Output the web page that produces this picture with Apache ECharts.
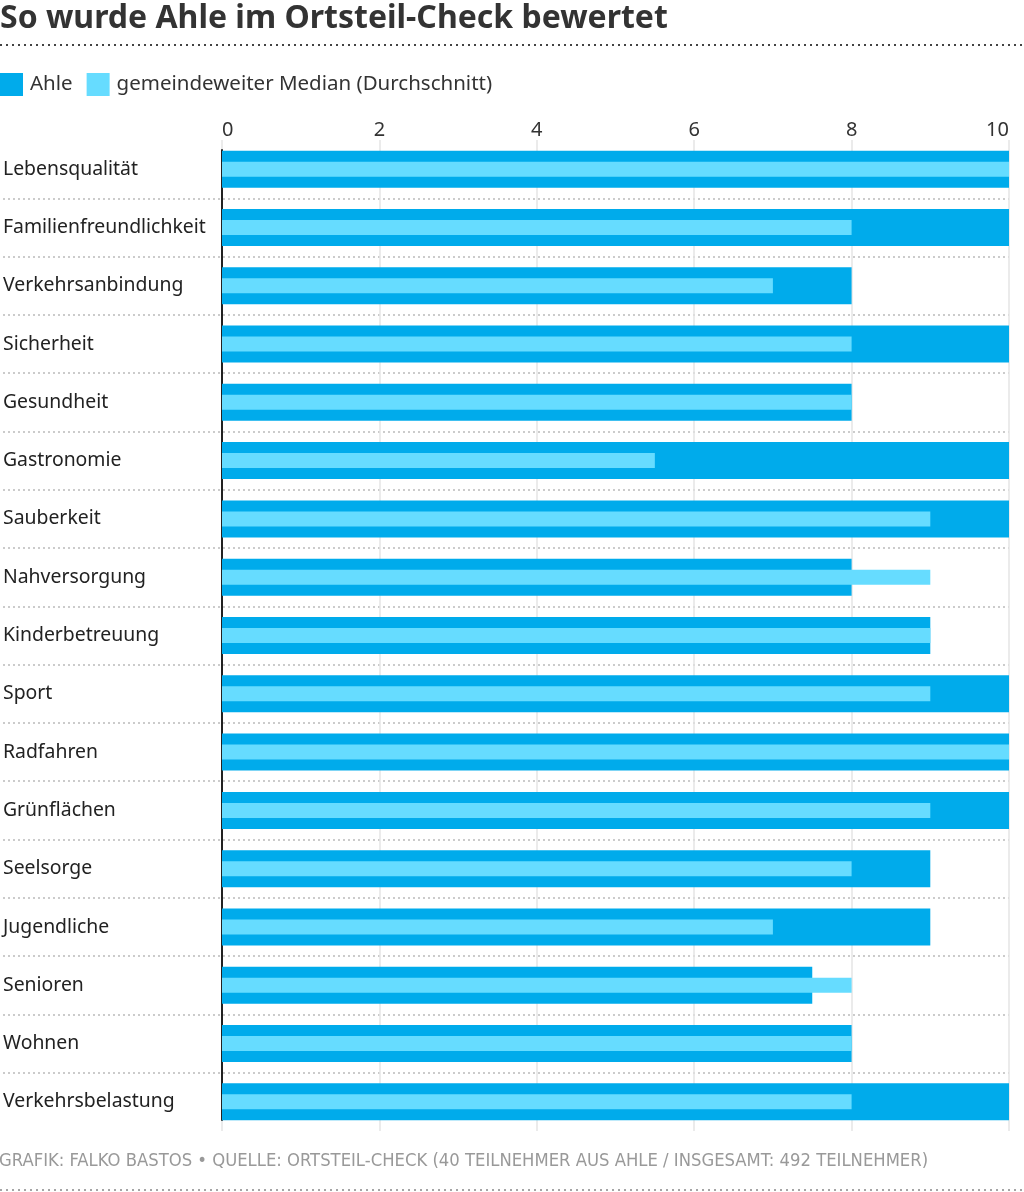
<!DOCTYPE html>
<html><head><meta charset="utf-8">
<script src="https://cdn.jsdelivr.net/npm/echarts@6/dist/echarts.min.js"></script>
<style>html,body{margin:0;padding:0;background:#fff}#c{width:1024px;height:1192px}</style>
</head><body><div id="c"></div>
<script>
const categories = ["Lebensqualität","Familienfreundlichkeit","Verkehrsanbindung","Sicherheit","Gesundheit","Gastronomie","Sauberkeit","Nahversorgung","Kinderbetreuung","Sport","Radfahren","Grünflächen","Seelsorge","Jugendliche","Senioren","Wohnen","Verkehrsbelastung"];
const ahle = [10,10,8,10,8,10,10,8,9,10,10,10,9,9,7.5,8,10];
const median = [10,8,7,8,8,5.5,9,9,9,9,10,9,8,7,8,8,8];
const xTicks = [0,2,4,6,8,10];
const F = '"Noto Sans", sans-serif';
const chart = echarts.init(document.getElementById('c'));
chart.setOption({
  animation:false,
  title:{text:'So wurde Ahle im Ortsteil-Check bewertet',left:-5,top:-2,textStyle:{fontFamily:F,fontSize:32,fontWeight:'bold',color:'#333'}},
  legend:{left:-5,top:68,itemWidth:23,itemHeight:23,itemGap:14,icon:'rect',textStyle:{fontFamily:F,fontSize:20.5,color:'#333',padding:[0,0,0,2]},data:['Ahle','gemeindeweiter Median (Durchschnitt)']},
  graphic:[
    {type:'line',shape:{x1:0,y1:45,x2:1024,y2:45},style:{stroke:'#444',lineWidth:2,lineDash:[2,4]}},
    {type:'line',shape:{x1:0,y1:1190,x2:1024,y2:1190},style:{stroke:'#888',lineWidth:1.5,lineDash:[2,4]}},
    {type:'text',left:-1,top:1152,style:{text:'GRAFIK: FALKO BASTOS • QUELLE: ORTSTEIL-CHECK (40 TEILNEHMER AUS AHLE / INSGESAMT: 492 TEILNEHMER)',fontFamily:'"DejaVu Sans Condensed","Noto Sans",sans-serif',fontSize:18.3,fill:'#999'}}
  ],
  grid:[
    {left:222,right:15,top:140,bottom:61},
    {left:-3,right:15,top:140,bottom:61},
    {left:222,right:15,top:150,bottom:72}
  ],
  xAxis:[
    {gridIndex:0,type:'value',position:'top',min:0,max:10,interval:2,axisLine:{show:false},axisTick:{show:false},
     axisLabel:{fontFamily:F,fontSize:20,color:'#333',margin:0,alignMinLabel:'left',alignMaxLabel:'right',formatter:v=>xTicks.includes(v)?String(v):''},
     splitLine:{show:true,lineStyle:{color:'#e4e4e4',width:1.5}}},
    {gridIndex:1,type:'value',show:false,min:0,max:10},
    {gridIndex:2,type:'value',show:false,min:0,max:10}
  ],
  yAxis:[
    {gridIndex:0,type:'category',data:categories,inverse:true,show:false},
    {gridIndex:0,type:'category',data:categories,inverse:true,show:false},
    {gridIndex:1,type:'category',data:categories,inverse:true,axisLine:{show:false},axisTick:{show:false},
     axisLabel:{inside:true,fontFamily:F,fontSize:19.4,color:'#222',margin:0,align:'left',padding:[3,0,0,0]},
     splitLine:{show:true,showMinLine:false,showMaxLine:false,lineStyle:{color:'#bbb',type:[2,3],width:1.5}}},
    {gridIndex:2,type:'category',data:categories,inverse:true,axisLine:{show:true,lineStyle:{color:'#222',width:2}},axisTick:{show:false},axisLabel:{show:false}}
  ],
  series:[
    {name:'Ahle',type:'bar',xAxisIndex:0,yAxisIndex:0,data:ahle,barWidth:37,itemStyle:{color:'#00abeb'},z:2},
    {name:'gemeindeweiter Median (Durchschnitt)',type:'bar',xAxisIndex:0,yAxisIndex:1,data:median,barWidth:15,itemStyle:{color:'#66dcff'},z:3}
  ]
});
</script></body></html>
